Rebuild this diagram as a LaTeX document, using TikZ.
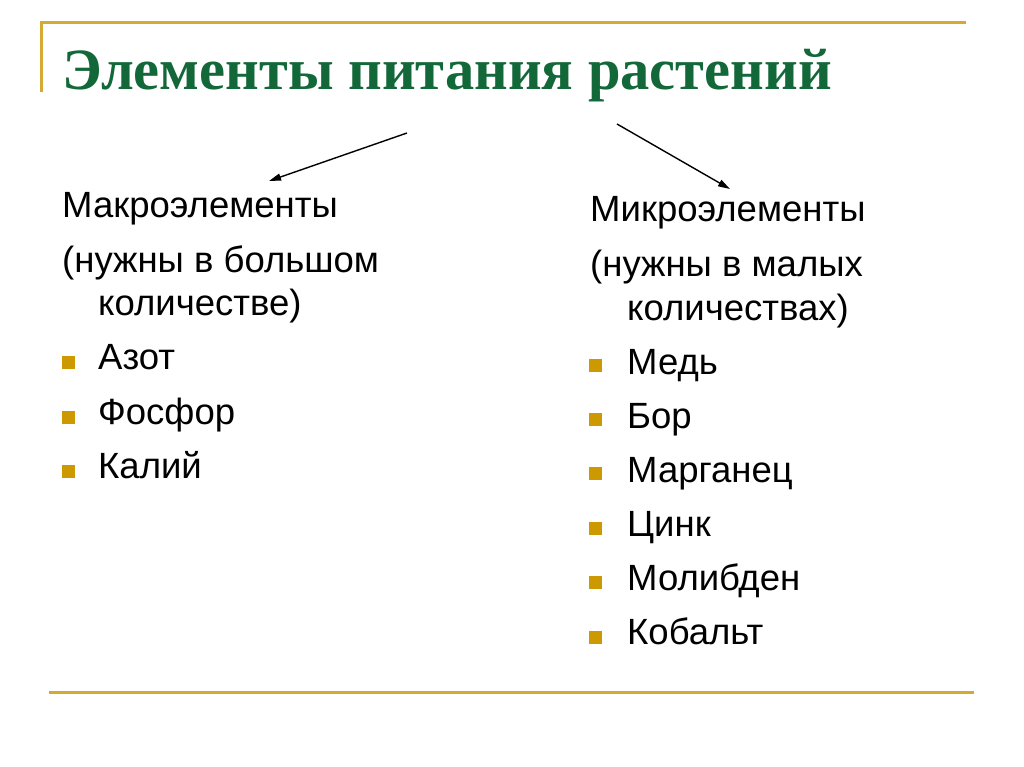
\documentclass[tikz,border=0pt]{standalone}
\usepackage{fontspec}
\setmainfont{Liberation Serif}
\newfontfamily\bodyfont{Liberation Sans}
\usetikzlibrary{arrows.meta}
\definecolor{gold}{RGB}{212,170,50}
\definecolor{bulletgold}{RGB}{204,153,0}
\definecolor{titlegreen}{RGB}{18,104,56}
\tikzset{
  rule/.style={draw=gold, line width=3pt},
  titletext/.style={anchor=base west, inner sep=0pt, font=\bfseries\fontsize{58.5}{64}\selectfont, text=titlegreen},
  bodytext/.style={anchor=base west, inner sep=0pt, font=\bodyfont\fontsize{36.5}{40}\selectfont},
  bulletbox/.style={fill=bulletgold, minimum size=13pt, inner sep=0pt, draw=none},
  connector/.style={draw=black, line width=1.4pt, -{Triangle[length=12pt,width=7pt]}},
}
\begin{document}
\begin{tikzpicture}[x=1pt,y=-1pt]
\useasboundingbox (0,0) rectangle (1024,767);
\fill[white] (0,0) rectangle (1024,767);
% frame rules
\coordinate (tl) at (41,23);
\coordinate (tr) at (966,23);
\coordinate (vl) at (41,92);
\coordinate (bl) at (49,692);
\coordinate (br) at (974,692);
\draw[rule] (vl) -- (tl) -- (tr);
\draw[rule] (bl) -- (br);
% title
\node[titletext] (title) at (62,90) {Элементы питания растений};
% arrows
\coordinate (la) at (407,133);
\coordinate (lb) at (269,181);
\coordinate (ra) at (617,124);
\coordinate (rb) at (730,189);
\draw[connector] (la) -- (lb);
\draw[connector] (ra) -- (rb);
% left column
\node[bodytext] (macro) at (62,218) {Макроэлементы};
\node[bodytext] (macro2) at (62,272) {(нужны в большом};
\node[bodytext] (macro3) at (98,315) {количестве)};
\node[bulletbox] (b1) at (68.5,362) {};
\node[bodytext] (n1) at (98,369) {Азот};
\node[bulletbox] (b2) at (68.5,417) {};
\node[bodytext] (n2) at (98,424) {Фосфор};
\node[bulletbox] (b3) at (68.5,471) {};
\node[bodytext] (n3) at (98,478) {Калий};
% right column
\node[bodytext] (micro) at (590,222) {Микроэлементы};
\node[bodytext] (micro2) at (590,276) {(нужны в малых};
\node[bodytext] (micro3) at (627,320) {количествах)};
\node[bulletbox] (c1) at (595,365) {};
\node[bodytext] (m1) at (627,374) {Медь};
\node[bulletbox] (c2) at (595,419) {};
\node[bodytext] (m2) at (627,428) {Бор};
\node[bulletbox] (c3) at (595,473) {};
\node[bodytext] (m3) at (627,482) {Марганец};
\node[bulletbox] (c4) at (595,528) {};
\node[bodytext] (m4) at (627,536) {Цинк};
\node[bulletbox] (c5) at (595,582) {};
\node[bodytext] (m5) at (627,590) {Молибден};
\node[bulletbox] (c6) at (595,637) {};
\node[bodytext] (m6) at (627,644) {Кобальт};
\end{tikzpicture}
\end{document}
